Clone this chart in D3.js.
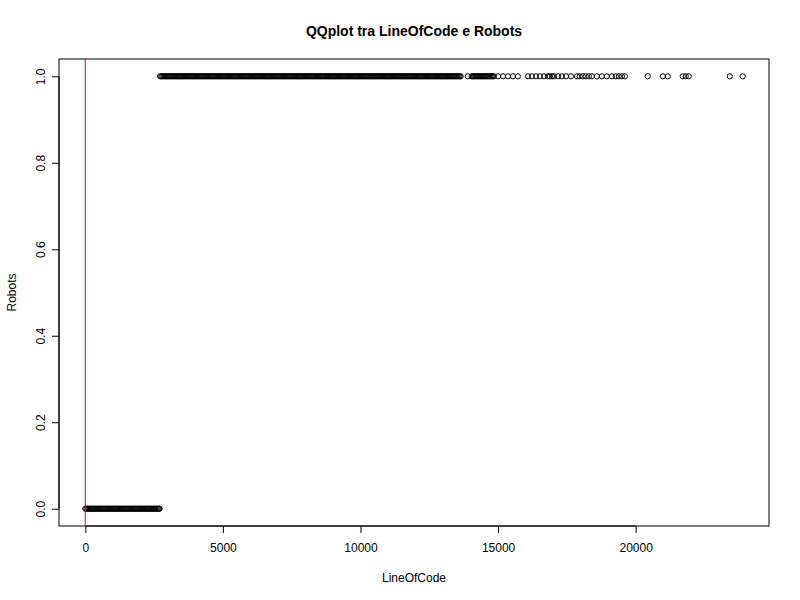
<!DOCTYPE html>
<html>
<head>
<meta charset="utf-8">
<script src="https://cdn.jsdelivr.net/npm/d3@7"></script>
<style>
  html, body { margin: 0; padding: 0; background: #fff; }
  svg text { font-family: "Liberation Sans", Arial, sans-serif; fill: #000; }
</style>
</head>
<body>
<svg id="chart" width="800" height="600"></svg>
<script>
// ---- data (sorted sample quantiles) ----
const chartTitle = "QQplot tra LineOfCode e Robots";
const xLabel = "LineOfCode";
const yLabel = "Robots";

// LineOfCode quantiles paired with Robots = 0
const locRobots0 = [
  0,40,80,120,160,200,240,280,320,360,
  400,440,480,520,560,600,640,680,720,760,
  800,840,880,920,960,1000,1040,1080,1120,1160,
  1200,1240,1280,1320,1360,1400,1440,1480,1520,1560,
  1600,1640,1680,1720,1760,1800,1840,1880,1920,1960,
  2000,2040,2080,2120,2160,2200,2240,2280,2320,2360,
  2400,2440,2480,2520,2560,2600,2640,2680,2700
];
// LineOfCode quantiles paired with Robots = 1
const locRobots1 = [
  2720,2760,
  2800,2840,2880,2920,2960,3000,3040,3080,3120,3160,
  3200,3240,3280,3320,3360,3400,3440,3480,3520,3560,
  3600,3640,3680,3720,3760,3800,3840,3880,3920,3960,
  4000,4040,4080,4120,4160,4200,4240,4280,4320,4360,
  4400,4440,4480,4520,4560,4600,4640,4680,4720,4760,
  4800,4840,4880,4920,4960,5000,5040,5080,5120,5160,
  5200,5240,5280,5320,5360,5400,5440,5480,5520,5560,
  5600,5640,5680,5720,5760,5800,5840,5880,5920,5960,
  6000,6040,6080,6120,6160,6200,6240,6280,6320,6360,
  6400,6440,6480,6520,6560,6600,6640,6680,6720,6760,
  6800,6840,6880,6920,6960,7000,7040,7080,7120,7160,
  7200,7240,7280,7320,7360,7400,7440,7480,7520,7560,
  7600,7640,7680,7720,7760,7800,7840,7880,7920,7960,
  8000,8040,8080,8120,8160,8200,8240,8280,8320,8360,
  8400,8440,8480,8520,8560,8600,8640,8680,8720,8760,
  8800,8840,8880,8920,8960,9000,9040,9080,9120,9160,
  9200,9240,9280,9320,9360,9400,9440,9480,9520,9560,
  9600,9640,9680,9720,9760,9800,9840,9880,9920,9960,
  10000,10040,10080,10120,10160,10200,10240,10280,10320,10360,
  10400,10440,10480,10520,10560,10600,10640,10680,10720,10760,
  10800,10840,10880,10920,10960,11000,11040,11080,11120,11160,
  11200,11240,11280,11320,11360,11400,11440,11480,11520,11560,
  11600,11640,11680,11720,11760,11800,11840,11880,11920,11960,
  12000,12040,12080,12120,12160,12200,12240,12280,12320,12360,
  12400,12440,12480,12520,12560,12600,12640,12680,12720,12760,
  12800,12840,12880,12920,12960,13000,13040,13080,13120,13160,
  13200,13240,13280,13320,13360,13400,13440,13480,13520,13560,
  13600,13640,
  13900,
  14040,14080,14120,14160,14200,14240,14280,14320,14360,14400,
  14440,14480,14520,14560,14600,14640,14680,14720,14760,14800,
  14850,15000,15180,15360,15540,15720,16090,16230,16380,16520,
  16670,16810,16880,16960,17030,17180,17320,17470,17650,17870,
  17970,18080,18190,18300,18410,18590,18770,18950,19140,19280,
  19390,19500,19610,20440,20990,21170,21710,21820,21930,23420,
  23890
];
const xTicks = [0, 5000, 10000, 15000, 20000];
const yTicks = [0, 0.2, 0.4, 0.6, 0.8, 1.0];
const refLineX = 0; // vertical reference line

// ---- build point table ----
const points = locRobots0.map(v => ({x: v, y: 0}))
  .concat(locRobots1.map(v => ({x: v, y: 1})));

// ---- layout ----
const svg = d3.select("#chart");
const plot = {left: 59, right: 769, top: 59, bottom: 526};

function rDomain(ext) {
  const pad = (ext[1] - ext[0]) * 0.04;
  return [ext[0] - pad, ext[1] + pad];
}
const x = d3.scaleLinear()
  .domain(rDomain(d3.extent(points, d => d.x)))
  .range([plot.left, plot.right]);
const y = d3.scaleLinear()
  .domain(rDomain(d3.extent(points, d => d.y)))
  .range([plot.bottom, plot.top]);

// axes (R style)
const xAxis = d3.axisBottom(x).tickValues(xTicks).tickSize(7).tickPadding(8)
  .tickFormat(d3.format("d"));
const gx = svg.append("g").attr("transform", `translate(0,${plot.bottom})`).call(xAxis);
gx.select(".domain").attr("d", `M${x(xTicks[0])},0H${x(xTicks[xTicks.length-1])}`)
  .attr("stroke", "#000");
gx.selectAll(".tick line").attr("stroke", "#000");
gx.selectAll(".tick text").attr("font-size", 12).attr("font-family", "Liberation Sans, Arial, sans-serif")
  .attr("dy", "0.71em").attr("y", 17);

const yAxis = d3.axisLeft(y).tickValues(yTicks).tickSize(7).tickPadding(0)
  .tickFormat(d3.format(".1f"));
const gy = svg.append("g").attr("transform", `translate(${plot.left},0)`).call(yAxis);
gy.select(".domain").attr("d", `M0,${y(yTicks[0])}V${y(yTicks[yTicks.length-1])}`)
  .attr("stroke", "#000");
gy.selectAll(".tick line").attr("stroke", "#000");
gy.selectAll(".tick text")
  .attr("font-size", 12).attr("font-family", "Liberation Sans, Arial, sans-serif")
  .attr("x", null).attr("dy", null)
  .attr("text-anchor", "middle")
  .attr("transform", "translate(-18,0) rotate(-90)")
  .attr("y", 0).attr("dy", "0.35em");

// box
svg.append("rect")
  .attr("x", plot.left).attr("y", plot.top)
  .attr("width", plot.right - plot.left).attr("height", plot.bottom - plot.top)
  .attr("fill", "none").attr("stroke", "#000").attr("stroke-width", 1);

// points
svg.append("g").selectAll("circle").data(points).join("circle")
  .attr("cx", d => x(d.x)).attr("cy", d => y(d.y))
  .attr("r", 2.6)
  .attr("fill", "none").attr("stroke", "#000").attr("stroke-width", 1);

// vertical reference line
svg.append("line")
  .attr("x1", x(refLineX)).attr("x2", x(refLineX))
  .attr("y1", plot.top).attr("y2", plot.bottom)
  .attr("stroke", "#ff0000").attr("stroke-width", 1);

// title and labels
const cx = (plot.left + plot.right) / 2;
svg.append("text").attr("x", cx).attr("y", 36)
  .attr("text-anchor", "middle").attr("font-size", 14).attr("font-weight", "bold")
  .text(chartTitle);
svg.append("text").attr("x", cx).attr("y", 582)
  .attr("text-anchor", "middle").attr("font-size", 12)
  .text(xLabel);
svg.append("text")
  .attr("transform", `translate(16,${(plot.top + plot.bottom) / 2}) rotate(-90)`)
  .attr("text-anchor", "middle").attr("font-size", 12)
  .text(yLabel);
</script>
</body>
</html>
